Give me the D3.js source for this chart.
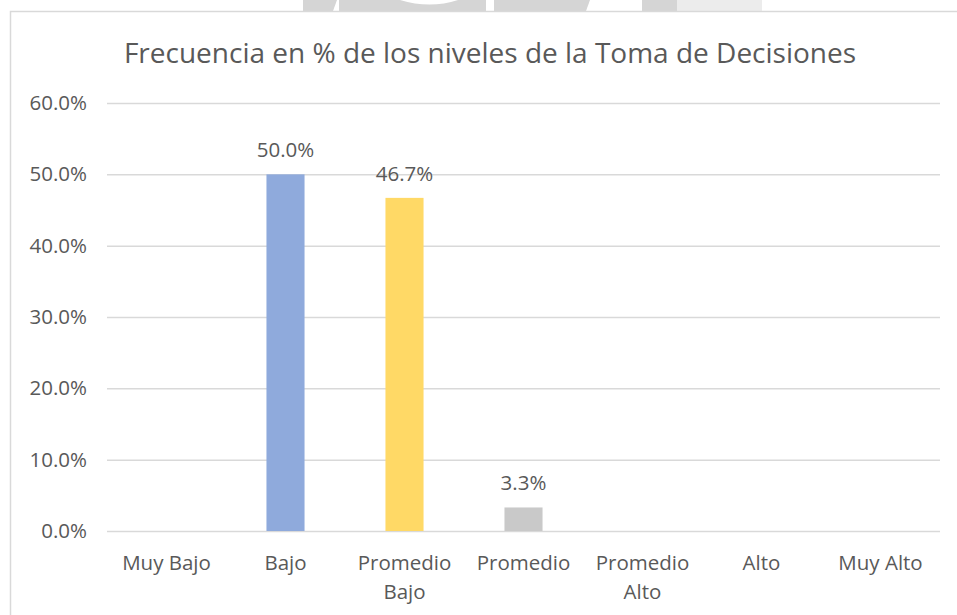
<!DOCTYPE html>
<html>
<head>
<meta charset="utf-8">
<script src="https://cdn.jsdelivr.net/npm/d3@7"></script>
<style>
  body { margin: 0; background: #fff; }
  svg { display: block; }
  text { font-family: "Open Sans", sans-serif; fill: #595959; }
</style>
</head>
<body>
<svg id="chart"></svg>
<script>
// Chart data
const title = "Frecuencia en % de los niveles de la Toma de Decisiones"
const categories = ["Muy Bajo", "Bajo", "Promedio Bajo", "Promedio", "Promedio Alto", "Alto", "Muy Alto"]
const percentages = [0, 50.0, 46.7, 3.3, 0, 0, 0]
const yTicks = [0, 10, 20, 30, 40, 50, 60]

const width = 957
const height = 615
const margin = { top: 103, right: 17, bottom: 84, left: 107 }

const svg = d3.select("#chart")
  .attr("width", width)
  .attr("height", height)

const x = d3.scaleBand()
  .domain(categories)
  .range([margin.left, width - margin.right])
  .paddingInner(0.68)
  .paddingOuter(0.34)

const y = d3.scaleLinear()
  .domain([0, d3.max(yTicks)])
  .range([height - margin.bottom, margin.top])

const color = d3.scaleOrdinal()
  .domain(["Bajo", "Promedio Bajo", "Promedio"])
  .range(["#8faadc", "#ffd966", "#c9c9c9"])
  .unknown("#8faadc")

renderBackground()
renderGrid()
renderBars()
renderXAxis()
renderTitle()

function renderBackground() {
  // faint watermark cut off at the top of the page
  const mark = svg.append("g").attr("fill", "#d5d5d5")
  mark.append("path").attr("d", "M303,0 H337 L333,11 H303 Z")
  mark.append("path").attr("d", "M339,0 H486 V11 H339 Z M400,0 Q430,9 458,0 Z").attr("fill-rule", "evenodd")
  mark.append("path").attr("d", "M494,0 H590 L586,11 H494 Z")
  mark.append("path").attr("d", "M642,0 H677 V11 H642 Z")
  mark.append("path").attr("d", "M677,0 H762 V11 H677 Z").attr("fill", "#ececec")

  // chart area border (left and top edges visible)
  svg.append("path")
    .attr("d", `M10.5,${height} V11.5 H${width}`)
    .attr("fill", "none")
    .attr("stroke", "#d9d9d9")
    .attr("stroke-width", 1.5)
}

function renderGrid() {
  svg.append("g")
    .attr("transform", `translate(${margin.left}, 0)`)
    .call(d3.axisLeft(y)
      .tickValues(yTicks)
      .tickSize(-(width - margin.left - margin.right))
      .tickPadding(20)
      .tickFormat(d => d.toFixed(1) + "%"))
    .call(g => g.select(".domain").remove())
    .call(g => g.selectAll(".tick line")
      .attr("stroke", "#d9d9d9")
      .attr("stroke-width", 1.5))
    .call(g => g.selectAll(".tick text")
      .attr("font-size", "20.5px")
      .attr("fill", "#595959"))
}

function renderBars() {
  const data = categories.map((c, i) => ({ category: c, value: percentages[i] }))

  svg.append("g")
    .selectAll("rect")
    .data(data.filter(d => d.value > 0))
    .join("rect")
    .attr("x", d => x(d.category))
    .attr("y", d => y(d.value))
    .attr("width", x.bandwidth())
    .attr("height", d => y(0) - y(d.value))
    .attr("fill", d => color(d.category))

  svg.append("g")
    .selectAll("text")
    .data(data.filter(d => d.value > 0))
    .join("text")
    .attr("x", d => x(d.category) + x.bandwidth() / 2)
    .attr("y", d => y(d.value) - 17)
    .attr("text-anchor", "middle")
    .attr("font-size", "20.5px")
    .attr("fill", "#404040")
    .text(d => d.value.toFixed(1) + "%")
}

function renderXAxis() {
  const step = x.step()

  svg.append("g")
    .attr("transform", `translate(0, ${y(0)})`)
    .call(d3.axisBottom(x).tickSize(0).tickPadding(0))
    .call(g => g.select(".domain").remove())
    .call(g => g.selectAll(".tick text")
      .attr("font-size", "20.5px")
      .attr("fill", "#595959")
      .attr("dy", null)
      .attr("y", 39)
      .each(function(d) { wrap(d3.select(this), d, step - 8) }))
}

function wrap(text, label, maxWidth) {
  const words = label.split(" ")
  text.text(null)
  let line = []
  let tspan = text.append("tspan").attr("x", 0)
  words.forEach(w => {
    line.push(w)
    tspan.text(line.join(" "))
    if (tspan.node().getComputedTextLength() > maxWidth && line.length > 1) {
      line.pop()
      tspan.text(line.join(" "))
      line = [w]
      tspan = text.append("tspan").attr("x", 0).attr("dy", "1.4em").text(w)
    }
  })
}

function renderTitle() {
  // centred on the whole chart box, not just the plot area
  svg.append("text")
    .attr("x", 490)
    .attr("y", 63)
    .attr("text-anchor", "middle")
    .attr("font-size", "28px")
    .attr("fill", "#595959")
    .text(title)
}
</script>
</body>
</html>
